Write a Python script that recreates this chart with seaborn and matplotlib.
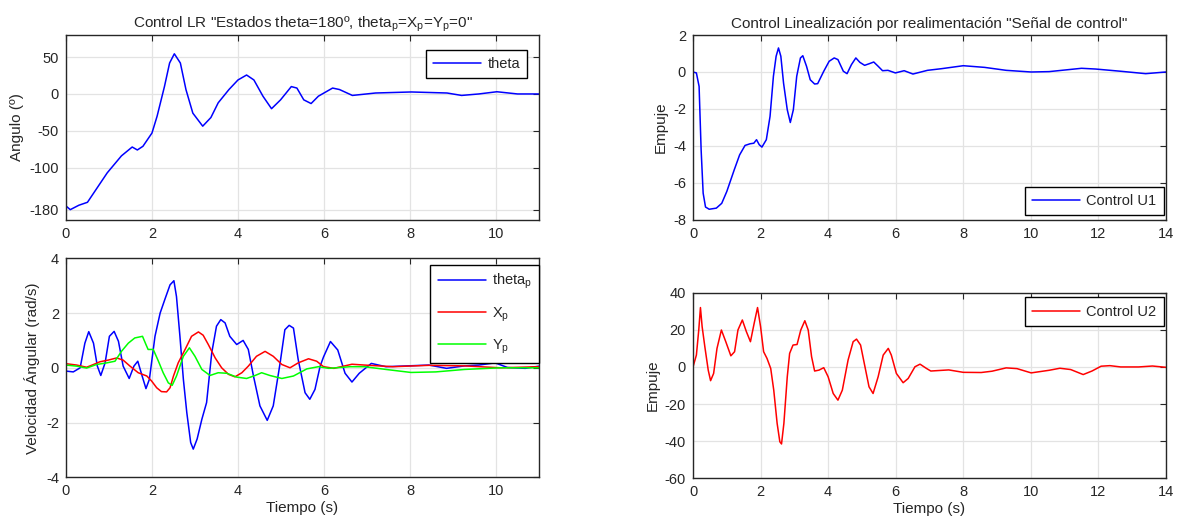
import numpy as np
import pandas as pd
import matplotlib
matplotlib.use("Agg")
import matplotlib.pyplot as plt
import seaborn as sns

# ---------------- data ----------------
theta_t = [0, 0.1, 0.3, 0.5, 0.96, 1.29, 1.54, 1.66, 1.79, 2.0, 2.12, 2.29, 2.41, 2.52, 2.66,
           2.79, 2.95, 3.18, 3.37, 3.54, 3.79, 4.0, 4.2, 4.37, 4.58, 4.78, 4.99, 5.24, 5.37,
           5.53, 5.7, 5.87, 6.2, 6.36, 6.66, 7.2, 8.03, 8.86, 9.2, 9.6, 10.02, 10.5, 11.0]
theta_v = [-152, -157, -151, -147, -107, -84, -72, -76, -71, -53, -30, 10, 42, 54.5, 42,
           6, -26, -43.7, -32, -12, 6, 19, 25.7, 19, -3, -20, -8, 10, 8,
           -8, -13, -3, 8, 6, -2, 1.3, 2.7, 1.3, -2, 0, 3, 0, 0]

thp_t = [0, 0.17, 0.33, 0.44, 0.53, 0.64, 0.73, 0.81, 0.91, 1.01, 1.12, 1.22, 1.33, 1.47,
         1.58, 1.67, 1.76, 1.86, 1.94, 2.07, 2.19, 2.3, 2.42, 2.51, 2.57, 2.65, 2.73, 2.81,
         2.9, 2.96, 3.05, 3.16, 3.27, 3.39, 3.5, 3.6, 3.7, 3.81, 3.97, 4.12, 4.24, 4.36,
         4.51, 4.68, 4.82, 4.98, 5.09, 5.19, 5.29, 5.4, 5.56, 5.67, 5.79, 5.91, 5.99, 6.15,
         6.32, 6.49, 6.65, 6.82, 7.1, 7.44, 7.77, 8.44, 8.85, 9.27, 9.6, 9.98, 10.27, 10.68, 11.0]
thp_v = [-0.12, -0.15, 0.0, 0.9, 1.32, 0.9, 0.06, -0.28, 0.18, 1.15, 1.33, 0.97, 0.06, -0.39,
         0.06, 0.24, -0.24, -0.76, -0.42, 1.15, 2.0, 2.5, 3.03, 3.18, 2.6, 1.15, -0.42, -1.64,
         -2.73, -2.97, -2.6, -1.88, -1.27, 0.55, 1.52, 1.76, 1.64, 1.15, 0.85, 1.0, 0.67, -0.3,
         -1.39, -1.92, -1.39, 0.18, 1.39, 1.55, 1.45, 0.3, -0.91, -1.15, -0.79, 0.06, 0.4, 0.96,
         0.65, -0.2, -0.52, -0.2, 0.16, 0.04, 0.06, 0.1, -0.02, 0.07, 0.1, 0.18, 0.01, -0.02, 0.06]

xp_t = [0, 0.25, 0.48, 0.64, 0.79, 0.98, 1.18, 1.33, 1.49, 1.68, 1.88, 1.99, 2.11, 2.22, 2.34,
        2.42, 2.5, 2.61, 2.77, 2.92, 3.08, 3.19, 3.31, 3.47, 3.62, 3.78, 3.93, 4.09, 4.24,
        4.43, 4.63, 4.82, 5.02, 5.21, 5.4, 5.64, 5.83, 5.99, 6.23, 6.65, 6.94, 7.6, 8.44,
        9.27, 10.1, 11.0]
xp_v = [0.15, 0.1, 0.02, 0.12, 0.22, 0.28, 0.36, 0.28, 0.06, -0.18, -0.3, -0.48, -0.73, -0.87,
        -0.88, -0.73, -0.3, 0.18, 0.67, 1.15, 1.31, 1.19, 0.85, 0.36, 0.0, -0.24, -0.33, -0.18,
        0.06, 0.42, 0.6, 0.42, 0.12, 0.0, 0.18, 0.33, 0.24, 0.04, -0.02, 0.13, 0.1, 0.04, 0.09,
        0.07, 0.0, 0.04]

yp_t = [0, 0.25, 0.48, 0.71, 0.95, 1.14, 1.29, 1.45, 1.6, 1.78, 1.86, 1.91, 2.03, 2.15, 2.26,
        2.38, 2.47, 2.57, 2.73, 2.87, 3.0, 3.16, 3.35, 3.54, 3.74, 3.97, 4.2, 4.4, 4.55, 4.74,
        5.02, 5.29, 5.6, 5.87, 6.11, 6.61, 6.94, 7.44, 8.02, 8.6, 9.27, 10.1, 11.0]
yp_v = [0.1, 0.06, -0.01, 0.12, 0.18, 0.24, 0.6, 0.9, 1.09, 1.15, 0.85, 0.67, 0.67, 0.24, -0.18,
        -0.55, -0.64, -0.3, 0.42, 0.73, 0.42, -0.06, -0.28, -0.18, -0.2, -0.34, -0.39, -0.28,
        -0.18, -0.28, -0.39, -0.3, -0.04, 0.04, -0.02, 0.04, 0.04, -0.06, -0.17, -0.15, -0.06,
        0.0, 0.0]

u1_t = [0, 0.1, 0.18, 0.24, 0.3, 0.37, 0.48, 0.69, 0.85, 1.0, 1.22, 1.38, 1.54, 1.69, 1.8,
        1.88, 1.96, 2.04, 2.17, 2.28, 2.38, 2.46, 2.53, 2.6, 2.68, 2.79, 2.88, 2.97, 3.07,
        3.18, 3.25, 3.36, 3.47, 3.6, 3.69, 3.87, 4.03, 4.18, 4.29, 4.45, 4.56, 4.69, 4.82,
        4.94, 5.08, 5.22, 5.35, 5.48, 5.61, 5.77, 5.99, 6.25, 6.51, 6.94, 7.36, 8.0, 8.63,
        9.27, 10.01, 10.54, 11.5, 11.92, 12.66, 13.4, 14.0]
u1_v = [0, -0.05, -0.78, -4.2, -6.55, -7.3, -7.42, -7.36, -7.1, -6.46, -5.29, -4.48, -3.97,
        -3.88, -3.85, -3.66, -3.93, -4.06, -3.66, -2.4, -0.23, 0.85, 1.3, 0.85, -0.6, -2.04,
        -2.73, -2.04, -0.23, 0.76, 0.88, 0.31, -0.42, -0.65, -0.63, 0.04, 0.58, 0.76, 0.67,
        0.04, -0.09, 0.4, 0.76, 0.52, 0.36, 0.45, 0.54, 0.31, 0.07, 0.09, -0.05, 0.07, -0.11,
        0.09, 0.18, 0.34, 0.25, 0.09, 0.0, 0.02, 0.2, 0.16, 0.04, -0.09, 0.0]

u2_t = [0, 0.1, 0.17, 0.22, 0.27, 0.35, 0.45, 0.52, 0.61, 0.71, 0.84, 0.97, 1.12, 1.23, 1.33,
        1.46, 1.58, 1.7, 1.81, 1.91, 2.0, 2.09, 2.19, 2.3, 2.39, 2.49, 2.57, 2.62, 2.69, 2.79,
        2.86, 2.96, 3.08, 3.19, 3.31, 3.41, 3.51, 3.6, 3.73, 3.87, 4.0, 4.15, 4.29, 4.42,
        4.59, 4.74, 4.84, 4.96, 5.09, 5.21, 5.33, 5.48, 5.63, 5.78, 5.87, 6.02, 6.22, 6.37,
        6.57, 6.72, 6.91, 7.04, 7.21, 7.57, 8.0, 8.53, 8.85, 9.27, 9.59, 10.01, 10.54, 10.86,
        11.18, 11.55, 11.81, 12.08, 12.34, 12.66, 13.19, 13.6, 14.0]
u2_v = [0, 6.4, 19.9, 32, 21.7, 10.9, -1.7, -7.4, -3.5, 10, 19.9, 13.6, 6, 8.2, 19.9, 25.3,
        19, 13.6, 23.5, 32, 21.7, 8.2, 4.6, -0.8, -12.5, -30.4, -40.3, -41.5, -30.4, -5.3, 7.3,
        11.8, 12.1, 19.9, 24.9, 19.9, 5.5, -2.2, -1.7, -0.4, -5.3, -14.3, -17.9, -12.5, 3.7,
        13.6, 15, 11.8, 0.1, -10.7, -14.3, -5.3, 6.4, 10, 6.4, -3.5, -8.5, -6.2, 0.1, 1.5,
        -0.8, -2.2, -2.0, -1.6, -2.9, -3.0, -2.3, -0.5, -0.9, -3.2, -1.8, -0.7, -1.4, -4.1,
        -2.2, 0.4, 0.7, 0.0, 0.0, 0.5, -0.2]

left_xticks = [0, 2, 4, 6, 8, 10]
right_xticks = [0, 2, 4, 6, 8, 10, 12, 14]
theta_ytick_pos = [-157, -100, -50, 0, 50]
theta_ytick_lab = ["-180", "-100", "-50", "0", "50"]

# ---------------- style ----------------
sns.set_theme(style="white")
plt.rcParams["font.family"] = ["Liberation Sans", "DejaVu Sans"]
plt.rcParams["mathtext.default"] = "regular"
plt.rcParams["mathtext.fontset"] = "custom"
plt.rcParams["mathtext.rm"] = "Liberation Sans"
plt.rcParams["mathtext.it"] = "Liberation Sans"
plt.rcParams["axes.unicode_minus"] = False

TXT = "#262626"
fig = plt.figure(figsize=(11.8, 5.24), dpi=100)
ax_tl = fig.add_axes([0.0559, 0.5802, 0.4009, 0.3530])
ax_bl = fig.add_axes([0.0559, 0.0891, 0.4009, 0.4180])
ax_tr = fig.add_axes([0.5873, 0.5802, 0.4008, 0.3530])
ax_br = fig.add_axes([0.5873, 0.0872, 0.4008, 0.3542])


def style(ax):
    ax.grid(True, color="#e3e3e3", linewidth=0.9)
    ax.set_axisbelow(True)
    for s in ax.spines.values():
        s.set_color(TXT)
        s.set_linewidth(1.0)
        s.set_visible(True)
    ax.tick_params(direction="in", top=True, right=True, length=4, width=0.8,
                   colors=TXT, labelsize=10.5, pad=5)


def draw(ax, t, v, color, label):
    df = pd.DataFrame({"t": t, "v": v})
    sns.lineplot(data=df, x="t", y="v", ax=ax, color=color, linewidth=1.1,
                 estimator=None, label=label)


def legend(ax, loc, anchor, spacing=0.5):
    lg = ax.legend(loc=loc, bbox_to_anchor=anchor, fancybox=False, edgecolor="black",
                   framealpha=1, fontsize=10.5, handlelength=3.3, borderaxespad=0.0,
                   labelspacing=spacing, handletextpad=0.4, borderpad=0.5)
    lg.get_frame().set_linewidth(1.0)


# top-left
draw(ax_tl, theta_t, theta_v, "#0000ff", "theta")
ax_tl.set_xlim(0, 11)
ax_tl.set_ylim(-171, 80)
ax_tl.set_xticks(left_xticks)
ax_tl.set_yticks(theta_ytick_pos)
ax_tl.set_yticklabels(theta_ytick_lab)
ax_tl.set_xlabel("")
ax_tl.set_ylabel("Angulo (º)", fontsize=11, color=TXT)
ax_tl.set_title('Control LR "Estados theta=180º, theta$_p$=X$_p$=Y$_p$=0"',
                fontsize=11, color=TXT, pad=5)
style(ax_tl)
legend(ax_tl, "upper right", (0.975, 0.92))

# bottom-left
draw(ax_bl, thp_t, thp_v, "#0000ff", "theta$_p$")
draw(ax_bl, xp_t, xp_v, "#ff0000", "X$_p$")
draw(ax_bl, yp_t, yp_v, "#00ff00", "Y$_p$")
ax_bl.set_xlim(0, 11)
ax_bl.set_ylim(-4, 4)
ax_bl.set_xticks(left_xticks)
ax_bl.set_yticks([-4, -2, 0, 2, 4])
ax_bl.set_xlabel("Tiempo (s)", fontsize=11, color=TXT, labelpad=2)
ax_bl.set_ylabel("Velocidad Ángular (rad/s)", fontsize=11, color=TXT)
style(ax_bl)
legend(ax_bl, "upper right", (1.0, 0.97), spacing=0.95)

# top-right
draw(ax_tr, u1_t, u1_v, "#0000ff", "Control U1")
ax_tr.set_xlim(0, 14)
ax_tr.set_ylim(-8, 2)
ax_tr.set_xticks(right_xticks)
ax_tr.set_yticks([-8, -6, -4, -2, 0, 2])
ax_tr.set_xlabel("")
ax_tr.set_ylabel("Empuje", fontsize=11, color=TXT)
ax_tr.set_title('Control Linealización por realimentación "Señal de control"',
                fontsize=11, color=TXT, pad=5)
style(ax_tr)
legend(ax_tr, "lower right", (0.995, 0.025))

# bottom-right
draw(ax_br, u2_t, u2_v, "#ff0000", "Control U2")
ax_br.set_xlim(0, 14)
ax_br.set_ylim(-60, 40)
ax_br.set_xticks(right_xticks)
ax_br.set_yticks([-60, -40, -20, 0, 20, 40])
ax_br.set_xlabel("Tiempo (s)", fontsize=11, color=TXT, labelpad=2)
ax_br.set_ylabel("Empuje", fontsize=11, color=TXT)
style(ax_br)
legend(ax_br, "upper right", (0.995, 0.975))

fig.savefig("out.png", dpi=100, facecolor="white")
